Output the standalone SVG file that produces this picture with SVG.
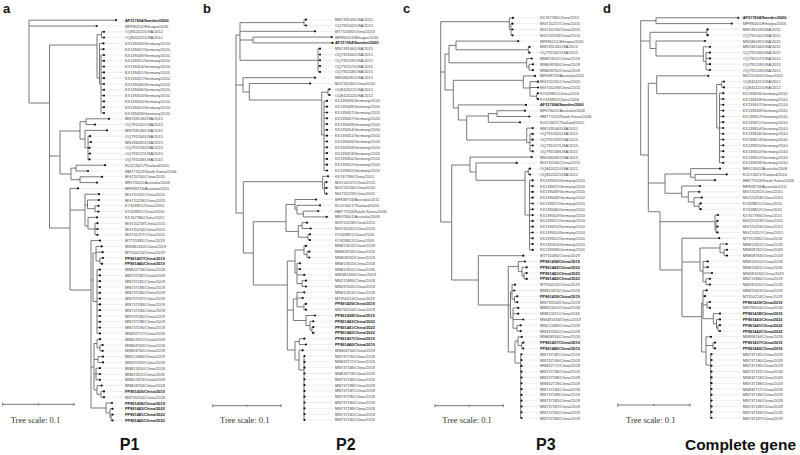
<svg xmlns="http://www.w3.org/2000/svg" width="800" height="455" viewBox="0 0 800 455">
<defs>
<marker id="dot" markerUnits="userSpaceOnUse" markerWidth="4" markerHeight="4" refX="2" refY="2" viewBox="0 0 4 4"><circle cx="2" cy="2" r="1.1" fill="#111"/></marker>
<style>
.tr{fill:none;stroke:#6a6a6a;stroke-width:.9}
.lf path{fill:none;stroke:#b0b0b0;stroke-width:.5;stroke-dasharray:.7 .9;marker-start:url(#dot)}
.lf text{font-family:"Liberation Sans",Arial,sans-serif;font-size:3.9px;fill:#444;dominant-baseline:central}
.lf .bd{font-weight:bold;fill:#111}
.sc{fill:none;stroke:#555;stroke-width:.8}
.st{font-family:"Liberation Serif","Times New Roman",serif;font-size:8.5px;fill:#333}
.ti{font-family:"Liberation Sans",Arial,sans-serif;font-size:16px;font-weight:bold;fill:#111;text-anchor:middle}
.pl{font-family:"Liberation Sans",Arial,sans-serif;font-size:13px;font-weight:bold;fill:#111}
</style>
</defs>
<rect width="800" height="455" fill="#fff"/>
<g id="connectors">
<path id="tree-a" class="tr" d="M29 20.2V103M29 20.2H116M29 26H96.7M29 103H49.5M49.5 45V228M49.5 45H97M49.5 156H60M49.5 228H70M97 34.7V78M97 34.7H101.5M97 78H99.5M101.5 31.8V37.6M101.5 31.8H104M101.5 37.6H104M99.5 43.4V84M99.5 43.4H103.5M99.5 49.2H103.5M99.5 84H101M101 55V113M101 55H104M101 60.8H104M101 66.6H104M101 72.4H104M101 78.2H104M101 84H104M101 89.8H104M101 95.6H104M101 101.4H104M101 107.2H104M101 113H104M60 131V174M60 131H80M60 174H71M80 121.7V139M80 121.7H86M80 139H85M86 118.8V124.6M86 118.8H109M86 124.6H95M85 130.4V147.8M85 130.4H107M85 147.8H88M88 136.2V159.4M88 136.2H90M88 142H91M88 147.8H89.5M88 153.6H90M88 159.4H89.5M71 168.1V179.7M71 168.1H76M71 179.7H80M76 165.2V171M76 165.2H105M76 171H88M80 176.8V182.6M80 176.8H102M80 182.6H97M70 188.4V290M70 188.4H78M70 210H85M70 290H91M85 194.2V226M85 194.2H99M85 205H87.5M85 226H88M87.5 200V208.7M87.5 200H99M87.5 208.7H95M95 205.8V211.6M95 205.8H98.5M95 211.6H98.5M88 217.4V229M88 217.4H97M88 229H95M95 223.2V234.8M95 223.2H97.5M95 229H97.5M95 234.8H97.5M91 240.6V408M91 240.6H100M91 280H93M91 367H94M91 408H106M93 253V301.5M93 253H96M93 301.5H97M96 246.4V260.9M96 246.4H101.7M96 252.2H102.7M96 260.9H100M100 258V263.8M100 258H103M100 263.8H102M97 269.6V333.4M97 269.6H100M97 275.4H100M97 281.2H100M97 287H100M97 292.8H100M97 298.6H100M97 304.4H100M97 310.2H100M97 316H100M97 321.8H100M97 327.6H100M97 333.4H100M94 343.5V390M94 343.5H97M94 359.5H98M94 374H96M94 390H97M97 339.2V347.9M97 339.2H100M97 347.9H100M100 345V350.8M100 345H102.7M100 350.8H102.7M98 356.6V362.4M98 356.6H103M98 362.4H103M96 368.2V379.8M96 368.2H100M96 374H100M96 379.8H100M97 385.6V394.3M97 385.6H101.7M97 394.3H101M101 391.4V397.2M101 391.4H104M101 397.2H104M106 403V413M106 403H112M106 413H110M110 408.8V417.5M110 408.8H112.5M110 417.5H111M111 414.6V420.4M111 414.6H112.5M111 420.4H112.5"/>
<path id="tree-b" class="tr" d="M236 35V213M236 35H240M236 85H243M236 213H243.3M240 22.6V60.3M240 22.6H304M240 31.3H315M240 40H253M240 60.3H318M304 19.7V25.5M304 19.7H306M304 25.5H306M253 37.1V42.9M253 37.1H331.7M253 42.9H332.5M318 48.7V71.9M318 48.7H320M318 54.5H320M318 60.3H320M318 66.1H320M318 71.9H320M243 77.7V92M243 77.7H315M243 92H249.3M249.3 83.5V100M249.3 83.5H310M249.3 100H321.7M321.7 92.2V135M321.7 92.2H328M321.7 135H324M328 89.3V95.1M328 89.3H329.5M328 95.1H329.5M324 100.9V170.5M324 100.9H327M324 106.7H327M324 112.5H327M324 118.3H327M324 124.1H327M324 129.9H327M324 135.7H327M324 141.5H327M324 147.3H327M324 153.1H327M324 158.9H327M324 164.7H327M324 170.5H327M243.3 181.7V253M243.3 181.7H322.7M243.3 253H253.3M322.7 176.3V188.7M322.7 176.3H328M322.7 188.7H324.5M324.5 182.1V193.7M324.5 182.1H326.5M324.5 187.9H326.5M324.5 193.7H326.5M253.3 221.7V285M253.3 221.7H286M253.3 285H287.3M286 204.5V231.4M286 204.5H295M286 231.4H298.3M295 199.5V209.6M295 199.5H316M295 209.6H297M297 205.3V214M297 205.3H320M297 214H303.3M303.3 211.1V216.9M303.3 211.1H318.3M303.3 216.9H326.7M298.3 225.6V237.2M298.3 225.6H302M298.3 237.2H308M302 222.7V228.5M302 222.7H307M302 228.5H310.7M308 234.3V240.1M308 234.3H310M308 240.1H310M287.3 261V350M287.3 261H295M287.3 310H293.3M287.3 350H295M295 250V273M295 250H304M295 273H297M304 245.9V254.6M304 245.9H306M304 254.6H307M307 251.7V257.5M307 251.7H309.3M307 257.5H309.3M297 263.3V283.6M297 263.3H300M297 269.1H300M297 274.9H304.3M297 283.6H302M302 280.7V286.5M302 280.7H306M302 286.5H306M293.3 299V320.5M293.3 299H297M293.3 320.5H306M297 292.3V306.8M297 292.3H304.3M297 298.1H302.7M297 306.8H304M304 303.9V309.7M304 303.9H306M304 309.7H306M306 315.5V325.6M306 315.5H315M306 325.6H310M310 321.3V330M310 321.3H313.3M310 330H312M312 327.1V332.9M312 327.1H313.3M312 332.9H313.3M295 341.6V360M295 341.6H299.3M295 360H299M299.3 338.7V344.5M299.3 338.7H304.3M299.3 344.5H306M299 350.3V370M299 350.3H302.7M299 370H304M304 356.1V419.9"/>
<path id="tree-c" class="tr" d="M440.7 21.7V222M440.7 21.7H509.3M440.7 72H445M440.7 222H451.7M509.3 17.9V29.5M509.3 17.9H513M509.3 29.5H511M511 23.7V35.3M511 23.7H512.5M511 29.5H512.5M511 35.3H512.5M445 54V90M445 54H449M445 90H453.3M449 45.4V62.8M449 45.4H456M449 62.8H526.7M456 41.1V49.8M456 41.1H518.3M456 49.8H528.3M528.3 46.9V52.7M528.3 46.9H529.5M528.3 52.7H529.5M526.7 58.5V67.2M526.7 58.5H531.7M526.7 67.2H529M529 64.3V70.1M529 64.3H533M529 70.1H533M453.3 80.3V108M453.3 80.3H523.3M453.3 108H458.3M523.3 75.9V88M523.3 75.9H535M523.3 88H530M530 81.7V96.2M530 81.7H538M530 87.5H538M530 96.2H536.7M536.7 93.3V99.1M536.7 93.3H538M536.7 99.1H538M458.3 104.9V120M458.3 104.9H526M458.3 120H466.7M466.7 116V140M466.7 116H488.3M466.7 140H526.7M488.3 113.6V122.3M488.3 113.6H497M488.3 122.3H520M497 110.7V116.5M497 110.7H525M497 116.5H529.3M526.7 128.1V142.6M526.7 128.1H532.7M526.7 142.6H530M530 133.9V151.3M530 133.9H532.7M530 139.7H532.7M530 145.5H532.7M530 151.3H532.7M451.7 165V280M451.7 165H470M451.7 280H478.3M470 157.1V172M470 157.1H531.7M470 172H476M476 162.9V180.3M476 162.9H516.7M476 180.3H525M525 171.6V215M525 171.6H528.3M525 215H529.5M528.3 168.7V174.5M528.3 168.7H530M528.3 174.5H530M529.5 180.3V249.9M529.5 180.3H532.7M529.5 186.1H532.7M529.5 191.9H532.7M529.5 197.7H532.7M529.5 203.5H532.7M529.5 209.3H532.7M529.5 215.1H532.7M529.5 220.9H532.7M529.5 226.7H532.7M529.5 232.5H532.7M529.5 238.3H532.7M529.5 244.1H532.7M529.5 249.9H532.7M478.3 255.7V305M478.3 255.7H523.3M478.3 305H508.3M508.3 266.5V352M508.3 266.5H518.3M508.3 305H510.5M508.3 352H515M518.3 261.5V271.6M518.3 261.5H525M518.3 271.6H522M522 267.3V276M522 267.3H526.7M522 276H524M524 273.1V278.9M524 273.1H526.7M524 278.9H526.7M510.5 292V318M510.5 292H512M510.5 318H513M512 284.7V299.2M512 284.7H515M512 290.5H514.3M512 299.2H514.5M514.5 296.3V302.1M514.5 296.3H517.3M514.5 302.1H517.3M513 307.9V328.2M513 307.9H518.3M513 313.7H518.3M513 319.5H523.3M513 328.2H517M517 325.3V331.1M517 325.3H520.7M517 331.1H520.7M515 341V363M515 341H518M515 363H520.7M518 336.9V345.6M518 336.9H521.7M518 345.6H521.7M521.7 342.7V348.5M521.7 342.7H523.3M521.7 348.5H523.3M520.7 354.3V418.1"/>
<path id="tree-d" class="tr" d="M640.7 20.7V155M640.7 20.7H656M640.7 41H650M640.7 155H648.3M656 17.8V23.6M656 17.8H738.3M656 23.6H731.7M650 32.3V48.5M650 32.3H706.7M650 48.5H656M706.7 29.4V35.2M706.7 29.4H707.7M706.7 35.2H707.7M656 41V56M656 41H705M656 56H703.3M703.3 46.8V61.3M703.3 46.8H710M703.3 61.3H706M706 52.6V70M706 52.6H710M706 58.4H710M706 64.2H710M706 70H710M648.3 83.3V211.7M648.3 83.3H656.7M648.3 183H665M648.3 211.7H660M656.7 75.8V93.7M656.7 75.8H708.3M656.7 93.7H716.7M716.7 84.5V128M716.7 84.5H721.7M716.7 128H719.5M721.7 81.6V87.4M721.7 81.6H724M721.7 87.4H724M719.5 93.2V162.8M719.5 93.2H723.3M719.5 99H723.3M719.5 104.8H723.3M719.5 110.6H723.3M719.5 116.4H723.3M719.5 122.2H723.3M719.5 128H723.3M719.5 133.8H723.3M719.5 139.6H723.3M719.5 145.4H723.3M719.5 151.2H723.3M719.5 157H723.3M719.5 162.8H723.3M665 174V193.3M665 174H690.7M665 193.3H681.7M690.7 168.6V177.3M690.7 168.6H720M690.7 177.3H695M695 174.4V180.2M695 174.4H726.7M695 180.2H715M681.7 186V197M681.7 186H700M681.7 197H688.3M688.3 191.8V202M688.3 191.8H699.3M688.3 202H694M694 197.6V206.3M694 197.6H701.7M694 206.3H699M699 203.4V209.2M699 203.4H700.7M699 209.2H700.7M660 211.7V270M660 221.7H715M660 270H682M715 215V229.5M715 215H718M715 229.5H716M716 220.8V232.4M716 220.8H717.5M716 226.6H717.5M716 232.4H717.5M682 238.2V316.7M682 238.2H719.3M682 262H700M682 316.7H701.7M700 248V271M700 248H720M700 271H703M720 244V252.7M720 244H726.7M720 252.7H724M724 249.8V255.6M724 249.8H727M724 255.6H727M703 261.4V281.7M703 261.4H707.7M703 267.2H707.7M703 273H712M703 281.7H706M706 278.8V284.6M706 278.8H710M706 284.6H710M701.7 303V352M701.7 303H703M701.7 352H706M703 290.4V318.7M703 290.4H706.7M703 296.2H705M703 304.9H707M703 318.7H713.3M707 302V307.8M707 302H710M707 307.8H710M713.3 313.6V323.8M713.3 313.6H720M713.3 323.8H716.5M716.5 319.4V328.1M716.5 319.4H720M716.5 328.1H718M718 325.2V331M718 325.2H720M718 331H720M706 336.8V365M706 336.8H711M706 345.5H713M706 365H710.7M713 342.6V348.4M713 342.6H715M713 348.4H715M710.7 354.2V418"/>
</g>
<g class="lf" id="leaves-a">
<g id="a0"><path d="M116 20.2H124"/><text x="125" y="20.2" class="bd">AF317694/Sweden/2000</text></g>
<g id="a1"><path d="M96.7 26H124"/><text x="125" y="26">MF990201/Ethiopia/2016</text></g>
<g id="a2"><path d="M104 31.8H124"/><text x="125" y="31.8">OQ842421/USA/2012</text></g>
<g id="a3"><path d="M104 37.6H124"/><text x="125" y="37.6">OQ842422/USA/2012</text></g>
<g id="a4"><path d="M103.5 43.4H124"/><text x="125" y="43.4">KX139456/Germany/2010</text></g>
<g id="a5"><path d="M103.5 49.2H124"/><text x="125" y="49.2">KX139447/Germany/2010</text></g>
<g id="a6"><path d="M104 55H124"/><text x="125" y="55">KX139449/Germany/2010</text></g>
<g id="a7"><path d="M104 60.8H124"/><text x="125" y="60.8">KX139455/Germany/2010</text></g>
<g id="a8"><path d="M104 66.6H124"/><text x="125" y="66.6">KX139454/Germany/2010</text></g>
<g id="a9"><path d="M104 72.4H124"/><text x="125" y="72.4">KX139451/Germany/2010</text></g>
<g id="a10"><path d="M104 78.2H124"/><text x="125" y="78.2">KX139457/Germany/2010</text></g>
<g id="a11"><path d="M104 84H124"/><text x="125" y="84">KX139448/Germany/2010</text></g>
<g id="a12"><path d="M104 89.8H124"/><text x="125" y="89.8">KX139446/Germany/2010</text></g>
<g id="a13"><path d="M104 95.6H124"/><text x="125" y="95.6">KX139453/Germany/2010</text></g>
<g id="a14"><path d="M104 101.4H124"/><text x="125" y="101.4">KX139450/Germany/2010</text></g>
<g id="a15"><path d="M104 107.2H124"/><text x="125" y="107.2">KX139452/Germany/2010</text></g>
<g id="a16"><path d="M104 113H124"/><text x="125" y="113">KX139458/Germany/2010</text></g>
<g id="a17"><path d="M109 118.8H124"/><text x="125" y="118.8">MN749143/USA/2015</text></g>
<g id="a18"><path d="M95 124.6H124"/><text x="125" y="124.6">OQ791562/USA/2015</text></g>
<g id="a19"><path d="M107 130.4H124"/><text x="125" y="130.4">MN749146/USA/2015</text></g>
<g id="a20"><path d="M90 136.2H124"/><text x="125" y="136.2">OQ791564/USA/2015</text></g>
<g id="a21"><path d="M91 142H124"/><text x="125" y="142">MN186092/USA/2015</text></g>
<g id="a22"><path d="M89.5 147.8H124"/><text x="125" y="147.8">OQ791559/USA/2015</text></g>
<g id="a23"><path d="M90 153.6H124"/><text x="125" y="153.6">OQ791557/USA/2015</text></g>
<g id="a24"><path d="M89.5 159.4H124"/><text x="125" y="159.4">OQ791558/USA/2015</text></g>
<g id="a25"><path d="M105 165.2H124"/><text x="125" y="165.2">KU574621/Thailand/2010</text></g>
<g id="a26"><path d="M88 171H124"/><text x="125" y="171">HM777023/South Korea/2006</text></g>
<g id="a27"><path d="M102 176.8H124"/><text x="125" y="176.8">MG720260/China/2015</text></g>
<g id="a28"><path d="M97 182.6H124"/><text x="125" y="182.6">MF076001/Australia/2008</text></g>
<g id="a29"><path d="M78 188.4H124"/><text x="125" y="188.4">MF838733/Australia/2011</text></g>
<g id="a30"><path d="M99 194.2H124"/><text x="125" y="194.2">MG720261/China/2015</text></g>
<g id="a31"><path d="M99 200H124"/><text x="125" y="200">MG720258/China/2015</text></g>
<g id="a32"><path d="M98.5 205.8H124"/><text x="125" y="205.8">KY628851/China/2016</text></g>
<g id="a33"><path d="M98.5 211.6H124"/><text x="125" y="211.6">KY628852/China/2016</text></g>
<g id="a34"><path d="M97 217.4H124"/><text x="125" y="217.4">KX767786/China/2015</text></g>
<g id="a35"><path d="M97.5 223.2H124"/><text x="125" y="223.2">MG720259/China/2015</text></g>
<g id="a36"><path d="M97.5 229H124"/><text x="125" y="229">MG720256/China/2015</text></g>
<g id="a37"><path d="M97.5 234.8H124"/><text x="125" y="234.8">MG720257/China/2015</text></g>
<g id="a38"><path d="M100 240.6H124"/><text x="125" y="240.6">MT755385/China/2019</text></g>
<g id="a39"><path d="M101.7 246.4H124"/><text x="125" y="246.4">MW481634/China/2019</text></g>
<g id="a40"><path d="M102.7 252.2H124"/><text x="125" y="252.2">MT350224/China/2019</text></g>
<g id="a41"><path d="M103 258H124"/><text x="125" y="258" class="bd">PP891437/China/2019</text></g>
<g id="a42"><path d="M102 263.8H124"/><text x="125" y="263.8" class="bd">PP891440/China/2019</text></g>
<g id="a43"><path d="M100 269.6H124"/><text x="125" y="269.6">MN832718/China/2019</text></g>
<g id="a44"><path d="M100 275.4H124"/><text x="125" y="275.4">MN737182/China/2019</text></g>
<g id="a45"><path d="M100 281.2H124"/><text x="125" y="281.2">MN737181/China/2019</text></g>
<g id="a46"><path d="M100 287H124"/><text x="125" y="287">MN737189/China/2019</text></g>
<g id="a47"><path d="M100 292.8H124"/><text x="125" y="292.8">MN737186/China/2019</text></g>
<g id="a48"><path d="M100 298.6H124"/><text x="125" y="298.6">MN737187/China/2019</text></g>
<g id="a49"><path d="M100 304.4H124"/><text x="125" y="304.4">MN737183/China/2019</text></g>
<g id="a50"><path d="M100 310.2H124"/><text x="125" y="310.2">MN737184/China/2019</text></g>
<g id="a51"><path d="M100 316H124"/><text x="125" y="316">MN737185/China/2019</text></g>
<g id="a52"><path d="M100 321.8H124"/><text x="125" y="321.8">MN737188/China/2019</text></g>
<g id="a53"><path d="M100 327.6H124"/><text x="125" y="327.6">MN737190/China/2019</text></g>
<g id="a54"><path d="M100 333.4H124"/><text x="125" y="333.4">MN832717/China/2019</text></g>
<g id="a55"><path d="M100 339.2H124"/><text x="125" y="339.2">MN815812/China/2019</text></g>
<g id="a56"><path d="M102.7 345H124"/><text x="125" y="345">MN808763/China/2019</text></g>
<g id="a57"><path d="M102.7 350.8H124"/><text x="125" y="350.8">MN808762/China/2019</text></g>
<g id="a58"><path d="M103 356.6H124"/><text x="125" y="356.6">MN215884/China/2019</text></g>
<g id="a59"><path d="M103 362.4H124"/><text x="125" y="362.4">MN337405/China/2019</text></g>
<g id="a60"><path d="M100 368.2H124"/><text x="125" y="368.2">MN815810/China/2018</text></g>
<g id="a61"><path d="M100 374H124"/><text x="125" y="374">MN815811/China/2018</text></g>
<g id="a62"><path d="M100 379.8H124"/><text x="125" y="379.8">MN815813/China/2019</text></g>
<g id="a63"><path d="M101.7 385.6H124"/><text x="125" y="385.6">MN808764/China/2019</text></g>
<g id="a64"><path d="M104 391.4H124"/><text x="125" y="391.4" class="bd">PP891439/China/2019</text></g>
<g id="a65"><path d="M104 397.2H124"/><text x="125" y="397.2">MN792054/China/2019</text></g>
<g id="a66"><path d="M112 403H124"/><text x="125" y="403" class="bd">PP891438/China/2019</text></g>
<g id="a67"><path d="M112.5 408.8H124"/><text x="125" y="408.8" class="bd">PP891443/China/2022</text></g>
<g id="a68"><path d="M112.5 414.6H124"/><text x="125" y="414.6" class="bd">PP891441/China/2022</text></g>
<g id="a69"><path d="M112.5 420.4H124"/><text x="125" y="420.4" class="bd">PP891442/China/2022</text></g>
</g>
<g class="lf" id="leaves-b">
<g id="b0"><path d="M306 19.7H333.5"/><text x="335" y="19.7">MN749143/USA/2015</text></g>
<g id="b1"><path d="M306 25.5H333.5"/><text x="335" y="25.5">OQ791562/USA/2015</text></g>
<g id="b2"><path d="M315 31.3H333.5"/><text x="335" y="31.3">MT755385/China/2019</text></g>
<g id="b3"><path d="M331.7 37.1H333.5"/><text x="335" y="37.1">MF990201/Ethiopia/2016</text></g>
<g id="b4"><path d="M332.5 42.9H333.5"/><text x="335" y="42.9" class="bd">AF317694/Sweden/2000</text></g>
<g id="b5"><path d="M320 48.7H333.5"/><text x="335" y="48.7">MN749146/USA/2015</text></g>
<g id="b6"><path d="M320 54.5H333.5"/><text x="335" y="54.5">OQ791564/USA/2015</text></g>
<g id="b7"><path d="M320 60.3H333.5"/><text x="335" y="60.3">OQ791559/USA/2015</text></g>
<g id="b8"><path d="M320 66.1H333.5"/><text x="335" y="66.1">OQ791557/USA/2015</text></g>
<g id="b9"><path d="M320 71.9H333.5"/><text x="335" y="71.9">OQ791558/USA/2015</text></g>
<g id="b10"><path d="M315 77.7H333.5"/><text x="335" y="77.7">MN186092/USA/2015</text></g>
<g id="b11"><path d="M310 83.5H333.5"/><text x="335" y="83.5">MG720260/China/2015</text></g>
<g id="b12"><path d="M329.5 89.3H333.5"/><text x="335" y="89.3">OQ842421/USA/2012</text></g>
<g id="b13"><path d="M329.5 95.1H333.5"/><text x="335" y="95.1">OQ842422/USA/2012</text></g>
<g id="b14"><path d="M327 100.9H333.5"/><text x="335" y="100.9">KX139456/Germany/2010</text></g>
<g id="b15"><path d="M327 106.7H333.5"/><text x="335" y="106.7">KX139448/Germany/2010</text></g>
<g id="b16"><path d="M327 112.5H333.5"/><text x="335" y="112.5">KX139457/Germany/2010</text></g>
<g id="b17"><path d="M327 118.3H333.5"/><text x="335" y="118.3">KX139447/Germany/2010</text></g>
<g id="b18"><path d="M327 124.1H333.5"/><text x="335" y="124.1">KX139449/Germany/2010</text></g>
<g id="b19"><path d="M327 129.9H333.5"/><text x="335" y="129.9">KX139454/Germany/2010</text></g>
<g id="b20"><path d="M327 135.7H333.5"/><text x="335" y="135.7">KX139451/Germany/2010</text></g>
<g id="b21"><path d="M327 141.5H333.5"/><text x="335" y="141.5">KX139446/Germany/2010</text></g>
<g id="b22"><path d="M327 147.3H333.5"/><text x="335" y="147.3">KX139458/Germany/2010</text></g>
<g id="b23"><path d="M327 153.1H333.5"/><text x="335" y="153.1">KX139453/Germany/2010</text></g>
<g id="b24"><path d="M327 158.9H333.5"/><text x="335" y="158.9">KX139450/Germany/2010</text></g>
<g id="b25"><path d="M327 164.7H333.5"/><text x="335" y="164.7">KX139452/Germany/2010</text></g>
<g id="b26"><path d="M327 170.5H333.5"/><text x="335" y="170.5">KX139455/Germany/2010</text></g>
<g id="b27"><path d="M328 176.3H333.5"/><text x="335" y="176.3">KX767786/China/2015</text></g>
<g id="b28"><path d="M326.5 182.1H333.5"/><text x="335" y="182.1">MG720257/China/2015</text></g>
<g id="b29"><path d="M326.5 187.9H333.5"/><text x="335" y="187.9">MG720256/China/2015</text></g>
<g id="b30"><path d="M326.5 193.7H333.5"/><text x="335" y="193.7">MG720259/China/2015</text></g>
<g id="b31"><path d="M316 199.5H333.5"/><text x="335" y="199.5">MF838733/Australia/2011</text></g>
<g id="b32"><path d="M320 205.3H333.5"/><text x="335" y="205.3">KU574621/Thailand/2010</text></g>
<g id="b33"><path d="M318.3 211.1H333.5"/><text x="335" y="211.1">HM777023/South Korea/2006</text></g>
<g id="b34"><path d="M326.7 216.9H333.5"/><text x="335" y="216.9">MF076001/Australia/2008</text></g>
<g id="b35"><path d="M307 222.7H333.5"/><text x="335" y="222.7">MG720258/China/2015</text></g>
<g id="b36"><path d="M310.7 228.5H333.5"/><text x="335" y="228.5">MG720261/China/2015</text></g>
<g id="b37"><path d="M310 234.3H333.5"/><text x="335" y="234.3">KY628851/China/2016</text></g>
<g id="b38"><path d="M310 240.1H333.5"/><text x="335" y="240.1">KY628852/China/2016</text></g>
<g id="b39"><path d="M306 245.9H333.5"/><text x="335" y="245.9">MN815812/China/2019</text></g>
<g id="b40"><path d="M309.3 251.7H333.5"/><text x="335" y="251.7">MN808763/China/2019</text></g>
<g id="b41"><path d="M309.3 257.5H333.5"/><text x="335" y="257.5">MN808762/China/2019</text></g>
<g id="b42"><path d="M300 263.3H333.5"/><text x="335" y="263.3">MN815810/China/2018</text></g>
<g id="b43"><path d="M300 269.1H333.5"/><text x="335" y="269.1">MN815811/China/2018</text></g>
<g id="b44"><path d="M304.3 274.9H333.5"/><text x="335" y="274.9">MW481634/China/2019</text></g>
<g id="b45"><path d="M306 280.7H333.5"/><text x="335" y="280.7">MN215884/China/2019</text></g>
<g id="b46"><path d="M306 286.5H333.5"/><text x="335" y="286.5">MN337405/China/2019</text></g>
<g id="b47"><path d="M304.3 292.3H333.5"/><text x="335" y="292.3">MN815813/China/2019</text></g>
<g id="b48"><path d="M302.7 298.1H333.5"/><text x="335" y="298.1">MT350224/China/2019</text></g>
<g id="b49"><path d="M306 303.9H333.5"/><text x="335" y="303.9" class="bd">PP891439/China/2019</text></g>
<g id="b50"><path d="M306 309.7H333.5"/><text x="335" y="309.7">MN792054/China/2019</text></g>
<g id="b51"><path d="M315 315.5H333.5"/><text x="335" y="315.5" class="bd">PP891438/China/2019</text></g>
<g id="b52"><path d="M313.3 321.3H333.5"/><text x="335" y="321.3" class="bd">PP891443/China/2022</text></g>
<g id="b53"><path d="M313.3 327.1H333.5"/><text x="335" y="327.1" class="bd">PP891441/China/2022</text></g>
<g id="b54"><path d="M313.3 332.9H333.5"/><text x="335" y="332.9" class="bd">PP891442/China/2022</text></g>
<g id="b55"><path d="M304.3 338.7H333.5"/><text x="335" y="338.7" class="bd">PP891437/China/2019</text></g>
<g id="b56"><path d="M306 344.5H333.5"/><text x="335" y="344.5" class="bd">PP891440/China/2019</text></g>
<g id="b57"><path d="M302.7 350.3H333.5"/><text x="335" y="350.3">MN808764/China/2019</text></g>
<g id="b58"><path d="M304.5 356.1H333.5"/><text x="335" y="356.1">MN737190/China/2019</text></g>
<g id="b59"><path d="M304.5 361.9H333.5"/><text x="335" y="361.9">MN832717/China/2019</text></g>
<g id="b60"><path d="M304.5 367.7H333.5"/><text x="335" y="367.7">MN737186/China/2019</text></g>
<g id="b61"><path d="M304.5 373.5H333.5"/><text x="335" y="373.5">MN832718/China/2019</text></g>
<g id="b62"><path d="M304.5 379.3H333.5"/><text x="335" y="379.3">MN737183/China/2019</text></g>
<g id="b63"><path d="M304.5 385.1H333.5"/><text x="335" y="385.1">MN737188/China/2019</text></g>
<g id="b64"><path d="M304.5 390.9H333.5"/><text x="335" y="390.9">MN737187/China/2019</text></g>
<g id="b65"><path d="M304.5 396.7H333.5"/><text x="335" y="396.7">MN737185/China/2019</text></g>
<g id="b66"><path d="M304.5 402.5H333.5"/><text x="335" y="402.5">MN737184/China/2019</text></g>
<g id="b67"><path d="M304.5 408.3H333.5"/><text x="335" y="408.3">MN737189/China/2019</text></g>
<g id="b68"><path d="M304.5 414.1H333.5"/><text x="335" y="414.1">MN737181/China/2019</text></g>
<g id="b69"><path d="M304.5 419.9H333.5"/><text x="335" y="419.9">MN737182/China/2019</text></g>
</g>
<g class="lf" id="leaves-c">
<g id="c0"><path d="M513 17.9H538.8"/><text x="540" y="17.9">KX767786/China/2015</text></g>
<g id="c1"><path d="M512.5 23.7H538.8"/><text x="540" y="23.7">MG720257/China/2015</text></g>
<g id="c2"><path d="M512.5 29.5H538.8"/><text x="540" y="29.5">MG720256/China/2015</text></g>
<g id="c3"><path d="M512.5 35.3H538.8"/><text x="540" y="35.3">MG720259/China/2015</text></g>
<g id="c4"><path d="M518.3 41.1H538.8"/><text x="540" y="41.1">MF990201/Ethiopia/2016</text></g>
<g id="c5"><path d="M529.5 46.9H538.8"/><text x="540" y="46.9">MN749143/USA/2015</text></g>
<g id="c6"><path d="M529.5 52.7H538.8"/><text x="540" y="52.7">OQ791562/USA/2015</text></g>
<g id="c7"><path d="M531.7 58.5H538.8"/><text x="540" y="58.5">MN815812/China/2019</text></g>
<g id="c8"><path d="M533 64.3H538.8"/><text x="540" y="64.3">MN808763/China/2019</text></g>
<g id="c9"><path d="M533 70.1H538.8"/><text x="540" y="70.1">MN808762/China/2019</text></g>
<g id="c10"><path d="M535 75.9H538.8"/><text x="540" y="75.9">MF838733/Australia/2011</text></g>
<g id="c11"><path d="M538 81.7H538.8"/><text x="540" y="81.7">MG720261/China/2015</text></g>
<g id="c12"><path d="M538 87.5H538.8"/><text x="540" y="87.5">MG720258/China/2015</text></g>
<g id="c13"><path d="M538 93.3H538.8"/><text x="540" y="93.3">KY628851/China/2016</text></g>
<g id="c14"><path d="M538 99.1H538.8"/><text x="540" y="99.1">KY628852/China/2016</text></g>
<g id="c15"><path d="M526 104.9H538.8"/><text x="540" y="104.9" class="bd">AF317694/Sweden/2000</text></g>
<g id="c16"><path d="M525 110.7H538.8"/><text x="540" y="110.7">MF076001/Australia/2008</text></g>
<g id="c17"><path d="M529.3 116.5H538.8"/><text x="540" y="116.5">HM777023/South Korea/2006</text></g>
<g id="c18"><path d="M520 122.3H538.8"/><text x="540" y="122.3">KU574621/Thailand/2010</text></g>
<g id="c19"><path d="M532.7 128.1H538.8"/><text x="540" y="128.1">MN749146/USA/2015</text></g>
<g id="c20"><path d="M532.7 133.9H538.8"/><text x="540" y="133.9">OQ791564/USA/2015</text></g>
<g id="c21"><path d="M532.7 139.7H538.8"/><text x="540" y="139.7">OQ791559/USA/2015</text></g>
<g id="c22"><path d="M532.7 145.5H538.8"/><text x="540" y="145.5">OQ791557/USA/2015</text></g>
<g id="c23"><path d="M532.7 151.3H538.8"/><text x="540" y="151.3">OQ791558/USA/2015</text></g>
<g id="c24"><path d="M531.7 157.1H538.8"/><text x="540" y="157.1">MN186092/USA/2015</text></g>
<g id="c25"><path d="M516.7 162.9H538.8"/><text x="540" y="162.9">MG720260/China/2015</text></g>
<g id="c26"><path d="M530 168.7H538.8"/><text x="540" y="168.7">OQ842421/USA/2012</text></g>
<g id="c27"><path d="M530 174.5H538.8"/><text x="540" y="174.5">OQ842422/USA/2012</text></g>
<g id="c28"><path d="M532.7 180.3H538.8"/><text x="540" y="180.3">KX139456/Germany/2010</text></g>
<g id="c29"><path d="M532.7 186.1H538.8"/><text x="540" y="186.1">KX139447/Germany/2010</text></g>
<g id="c30"><path d="M532.7 191.9H538.8"/><text x="540" y="191.9">KX139449/Germany/2010</text></g>
<g id="c31"><path d="M532.7 197.7H538.8"/><text x="540" y="197.7">KX139448/Germany/2010</text></g>
<g id="c32"><path d="M532.7 203.5H538.8"/><text x="540" y="203.5">KX139457/Germany/2010</text></g>
<g id="c33"><path d="M532.7 209.3H538.8"/><text x="540" y="209.3">KX139446/Germany/2010</text></g>
<g id="c34"><path d="M532.7 215.1H538.8"/><text x="540" y="215.1">KX139453/Germany/2010</text></g>
<g id="c35"><path d="M532.7 220.9H538.8"/><text x="540" y="220.9">KX139451/Germany/2010</text></g>
<g id="c36"><path d="M532.7 226.7H538.8"/><text x="540" y="226.7">KX139455/Germany/2010</text></g>
<g id="c37"><path d="M532.7 232.5H538.8"/><text x="540" y="232.5">KX139450/Germany/2010</text></g>
<g id="c38"><path d="M532.7 238.3H538.8"/><text x="540" y="238.3">KX139452/Germany/2010</text></g>
<g id="c39"><path d="M532.7 244.1H538.8"/><text x="540" y="244.1">KX139454/Germany/2010</text></g>
<g id="c40"><path d="M532.7 249.9H538.8"/><text x="540" y="249.9">KX139458/Germany/2010</text></g>
<g id="c41"><path d="M523.3 255.7H538.8"/><text x="540" y="255.7">MT755385/China/2019</text></g>
<g id="c42"><path d="M525 261.5H538.8"/><text x="540" y="261.5" class="bd">PP891438/China/2019</text></g>
<g id="c43"><path d="M526.7 267.3H538.8"/><text x="540" y="267.3" class="bd">PP891443/China/2022</text></g>
<g id="c44"><path d="M526.7 273.1H538.8"/><text x="540" y="273.1" class="bd">PP891441/China/2022</text></g>
<g id="c45"><path d="M526.7 278.9H538.8"/><text x="540" y="278.9" class="bd">PP891442/China/2022</text></g>
<g id="c46"><path d="M515 284.7H538.8"/><text x="540" y="284.7">MT350224/China/2019</text></g>
<g id="c47"><path d="M514.3 290.5H538.8"/><text x="540" y="290.5">MN815813/China/2019</text></g>
<g id="c48"><path d="M517.3 296.3H538.8"/><text x="540" y="296.3" class="bd">PP891439/China/2019</text></g>
<g id="c49"><path d="M517.3 302.1H538.8"/><text x="540" y="302.1">MN792054/China/2019</text></g>
<g id="c50"><path d="M518.3 307.9H538.8"/><text x="540" y="307.9">MN815810/China/2018</text></g>
<g id="c51"><path d="M518.3 313.7H538.8"/><text x="540" y="313.7">MN815811/China/2018</text></g>
<g id="c52"><path d="M523.3 319.5H538.8"/><text x="540" y="319.5">MW481634/China/2019</text></g>
<g id="c53"><path d="M520.7 325.3H538.8"/><text x="540" y="325.3">MN215884/China/2019</text></g>
<g id="c54"><path d="M520.7 331.1H538.8"/><text x="540" y="331.1">MN337405/China/2019</text></g>
<g id="c55"><path d="M521.7 336.9H538.8"/><text x="540" y="336.9">MN808764/China/2019</text></g>
<g id="c56"><path d="M523.3 342.7H538.8"/><text x="540" y="342.7" class="bd">PP891437/China/2019</text></g>
<g id="c57"><path d="M523.3 348.5H538.8"/><text x="540" y="348.5" class="bd">PP891440/China/2019</text></g>
<g id="c58"><path d="M521.5 354.3H538.8"/><text x="540" y="354.3">MN737182/China/2019</text></g>
<g id="c59"><path d="M521.5 360.1H538.8"/><text x="540" y="360.1">MN737190/China/2019</text></g>
<g id="c60"><path d="M521.5 365.9H538.8"/><text x="540" y="365.9">MN832717/China/2019</text></g>
<g id="c61"><path d="M521.5 371.7H538.8"/><text x="540" y="371.7">MN737186/China/2019</text></g>
<g id="c62"><path d="M521.5 377.5H538.8"/><text x="540" y="377.5">MN737188/China/2019</text></g>
<g id="c63"><path d="M521.5 383.3H538.8"/><text x="540" y="383.3">MN832718/China/2019</text></g>
<g id="c64"><path d="M521.5 389.1H538.8"/><text x="540" y="389.1">MN737184/China/2019</text></g>
<g id="c65"><path d="M521.5 394.9H538.8"/><text x="540" y="394.9">MN737189/China/2019</text></g>
<g id="c66"><path d="M521.5 400.7H538.8"/><text x="540" y="400.7">MN737185/China/2019</text></g>
<g id="c67"><path d="M521.5 406.5H538.8"/><text x="540" y="406.5">MN737187/China/2019</text></g>
<g id="c68"><path d="M521.5 412.3H538.8"/><text x="540" y="412.3">MN737181/China/2019</text></g>
<g id="c69"><path d="M521.5 418.1H538.8"/><text x="540" y="418.1">MN737183/China/2019</text></g>
</g>
<g class="lf" id="leaves-d">
<g id="d0"><path d="M738.3 17.8H741.3"/><text x="742.7" y="17.8" class="bd">AF317694/Sweden/2000</text></g>
<g id="d1"><path d="M731.7 23.6H741.3"/><text x="742.7" y="23.6">MF990201/Ethiopia/2016</text></g>
<g id="d2"><path d="M707.7 29.4H741.3"/><text x="742.7" y="29.4">MN749143/USA/2015</text></g>
<g id="d3"><path d="M707.7 35.2H741.3"/><text x="742.7" y="35.2">OQ791562/USA/2015</text></g>
<g id="d4"><path d="M705 41H741.3"/><text x="742.7" y="41">MN186092/USA/2015</text></g>
<g id="d5"><path d="M710 46.8H741.3"/><text x="742.7" y="46.8">MN749146/USA/2015</text></g>
<g id="d6"><path d="M710 52.6H741.3"/><text x="742.7" y="52.6">OQ791564/USA/2015</text></g>
<g id="d7"><path d="M710 58.4H741.3"/><text x="742.7" y="58.4">OQ791557/USA/2015</text></g>
<g id="d8"><path d="M710 64.2H741.3"/><text x="742.7" y="64.2">OQ791559/USA/2015</text></g>
<g id="d9"><path d="M710 70H741.3"/><text x="742.7" y="70">OQ791558/USA/2015</text></g>
<g id="d10"><path d="M708.3 75.8H741.3"/><text x="742.7" y="75.8">MG720260/China/2015</text></g>
<g id="d11"><path d="M724 81.6H741.3"/><text x="742.7" y="81.6">OQ842421/USA/2012</text></g>
<g id="d12"><path d="M724 87.4H741.3"/><text x="742.7" y="87.4">OQ842422/USA/2012</text></g>
<g id="d13"><path d="M723.3 93.2H741.3"/><text x="742.7" y="93.2">KX139456/Germany/2010</text></g>
<g id="d14"><path d="M723.3 99H741.3"/><text x="742.7" y="99">KX139449/Germany/2010</text></g>
<g id="d15"><path d="M723.3 104.8H741.3"/><text x="742.7" y="104.8">KX139447/Germany/2010</text></g>
<g id="d16"><path d="M723.3 110.6H741.3"/><text x="742.7" y="110.6">KX139448/Germany/2010</text></g>
<g id="d17"><path d="M723.3 116.4H741.3"/><text x="742.7" y="116.4">KX139457/Germany/2010</text></g>
<g id="d18"><path d="M723.3 122.2H741.3"/><text x="742.7" y="122.2">KX139451/Germany/2010</text></g>
<g id="d19"><path d="M723.3 128H741.3"/><text x="742.7" y="128">KX139454/Germany/2010</text></g>
<g id="d20"><path d="M723.3 133.8H741.3"/><text x="742.7" y="133.8">KX139446/Germany/2010</text></g>
<g id="d21"><path d="M723.3 139.6H741.3"/><text x="742.7" y="139.6">KX139453/Germany/2010</text></g>
<g id="d22"><path d="M723.3 145.4H741.3"/><text x="742.7" y="145.4">KX139455/Germany/2010</text></g>
<g id="d23"><path d="M723.3 151.2H741.3"/><text x="742.7" y="151.2">KX139450/Germany/2010</text></g>
<g id="d24"><path d="M723.3 157H741.3"/><text x="742.7" y="157">KX139452/Germany/2010</text></g>
<g id="d25"><path d="M723.3 162.8H741.3"/><text x="742.7" y="162.8">KX139458/Germany/2010</text></g>
<g id="d26"><path d="M720 168.6H741.3"/><text x="742.7" y="168.6">MF076001/Australia/2008</text></g>
<g id="d27"><path d="M726.7 174.4H741.3"/><text x="742.7" y="174.4">KU574621/Thailand/2010</text></g>
<g id="d28"><path d="M715 180.2H741.3"/><text x="742.7" y="180.2">HM777023/South Korea/2006</text></g>
<g id="d29"><path d="M700 186H741.3"/><text x="742.7" y="186">MF838733/Australia/2011</text></g>
<g id="d30"><path d="M699.3 191.8H741.3"/><text x="742.7" y="191.8">MG720261/China/2015</text></g>
<g id="d31"><path d="M701.7 197.6H741.3"/><text x="742.7" y="197.6">MG720258/China/2015</text></g>
<g id="d32"><path d="M700.7 203.4H741.3"/><text x="742.7" y="203.4">KY628851/China/2016</text></g>
<g id="d33"><path d="M700.7 209.2H741.3"/><text x="742.7" y="209.2">KY628852/China/2016</text></g>
<g id="d34"><path d="M718 215H741.3"/><text x="742.7" y="215">KX767786/China/2015</text></g>
<g id="d35"><path d="M717.5 220.8H741.3"/><text x="742.7" y="220.8">MG720259/China/2015</text></g>
<g id="d36"><path d="M717.5 226.6H741.3"/><text x="742.7" y="226.6">MG720256/China/2015</text></g>
<g id="d37"><path d="M717.5 232.4H741.3"/><text x="742.7" y="232.4">MG720257/China/2015</text></g>
<g id="d38"><path d="M719.3 238.2H741.3"/><text x="742.7" y="238.2">MT755385/China/2019</text></g>
<g id="d39"><path d="M726.7 244H741.3"/><text x="742.7" y="244">MN815812/China/2019</text></g>
<g id="d40"><path d="M727 249.8H741.3"/><text x="742.7" y="249.8">MN808762/China/2019</text></g>
<g id="d41"><path d="M727 255.6H741.3"/><text x="742.7" y="255.6">MN808763/China/2019</text></g>
<g id="d42"><path d="M707.7 261.4H741.3"/><text x="742.7" y="261.4">MN815810/China/2018</text></g>
<g id="d43"><path d="M707.7 267.2H741.3"/><text x="742.7" y="267.2">MN815811/China/2018</text></g>
<g id="d44"><path d="M712 273H741.3"/><text x="742.7" y="273">MW481634/China/2019</text></g>
<g id="d45"><path d="M710 278.8H741.3"/><text x="742.7" y="278.8">MN215884/China/2019</text></g>
<g id="d46"><path d="M710 284.6H741.3"/><text x="742.7" y="284.6">MN337405/China/2019</text></g>
<g id="d47"><path d="M706.7 290.4H741.3"/><text x="742.7" y="290.4">MN815813/China/2019</text></g>
<g id="d48"><path d="M705 296.2H741.3"/><text x="742.7" y="296.2">MT350224/China/2019</text></g>
<g id="d49"><path d="M710 302H741.3"/><text x="742.7" y="302" class="bd">PP891439/China/2019</text></g>
<g id="d50"><path d="M710 307.8H741.3"/><text x="742.7" y="307.8">MN792054/China/2019</text></g>
<g id="d51"><path d="M720 313.6H741.3"/><text x="742.7" y="313.6" class="bd">PP891438/China/2019</text></g>
<g id="d52"><path d="M720 319.4H741.3"/><text x="742.7" y="319.4" class="bd">PP891443/China/2022</text></g>
<g id="d53"><path d="M720 325.2H741.3"/><text x="742.7" y="325.2" class="bd">PP891441/China/2022</text></g>
<g id="d54"><path d="M720 331H741.3"/><text x="742.7" y="331" class="bd">PP891442/China/2022</text></g>
<g id="d55"><path d="M711 336.8H741.3"/><text x="742.7" y="336.8">MN808764/China/2019</text></g>
<g id="d56"><path d="M715 342.6H741.3"/><text x="742.7" y="342.6" class="bd">PP891437/China/2019</text></g>
<g id="d57"><path d="M715 348.4H741.3"/><text x="742.7" y="348.4" class="bd">PP891440/China/2019</text></g>
<g id="d58"><path d="M711.5 354.2H741.3"/><text x="742.7" y="354.2">MN737182/China/2019</text></g>
<g id="d59"><path d="M711.5 360H741.3"/><text x="742.7" y="360">MN737190/China/2019</text></g>
<g id="d60"><path d="M711.5 365.8H741.3"/><text x="742.7" y="365.8">MN737185/China/2019</text></g>
<g id="d61"><path d="M711.5 371.6H741.3"/><text x="742.7" y="371.6">MN737181/China/2019</text></g>
<g id="d62"><path d="M711.5 377.4H741.3"/><text x="742.7" y="377.4">MN832718/China/2019</text></g>
<g id="d63"><path d="M711.5 383.2H741.3"/><text x="742.7" y="383.2">MN737188/China/2019</text></g>
<g id="d64"><path d="M711.5 389H741.3"/><text x="742.7" y="389">MN832717/China/2019</text></g>
<g id="d65"><path d="M711.5 394.8H741.3"/><text x="742.7" y="394.8">MN737186/China/2019</text></g>
<g id="d66"><path d="M711.5 400.6H741.3"/><text x="742.7" y="400.6">MN737184/China/2019</text></g>
<g id="d67"><path d="M711.5 406.4H741.3"/><text x="742.7" y="406.4">MN737189/China/2019</text></g>
<g id="d68"><path d="M711.5 412.2H741.3"/><text x="742.7" y="412.2">MN737183/China/2019</text></g>
<g id="d69"><path d="M711.5 418H741.3"/><text x="742.7" y="418">MN737187/China/2019</text></g>
</g>
<g id="scales">
<path class="sc" d="M2.7 404.3H74M2.7 402.8V405.8M38.3 403.3V405.3M74 402.8V405.8"/>
<text class="st" x="10.7" y="422.7">Tree scale: 0.1</text>
<path class="sc" d="M212.7 405.7H281M212.7 404.2V407.2M246.8 404.7V406.7M281 404.2V407.2"/>
<text class="st" x="220" y="422.7">Tree scale: 0.1</text>
<path class="sc" d="M435 405.7H503.3M435 404.2V407.2M469.2 404.7V406.7M503.3 404.2V407.2"/>
<text class="st" x="442.3" y="422.7">Tree scale: 0.1</text>
<path class="sc" d="M617.7 405H690M617.7 403.5V406.5M653.8 404V406M690 403.5V406.5"/>
<text class="st" x="626" y="422.7">Tree scale: 0.1</text>
</g>
<g id="panel-labels">
<text class="pl" x="3" y="13">a</text>
<text class="pl" x="203" y="13">b</text>
<text class="pl" x="403" y="13">c</text>
<text class="pl" x="603" y="13">d</text>
</g>
<g id="titles">
<text class="ti" x="129.5" y="450">P1</text>
<text class="ti" x="345.8" y="450">P2</text>
<text class="ti" x="545.8" y="450">P3</text>
<text class="ti" x="740.5" y="450" style="font-size:15.5px">Complete gene</text>
</g>
</svg>
